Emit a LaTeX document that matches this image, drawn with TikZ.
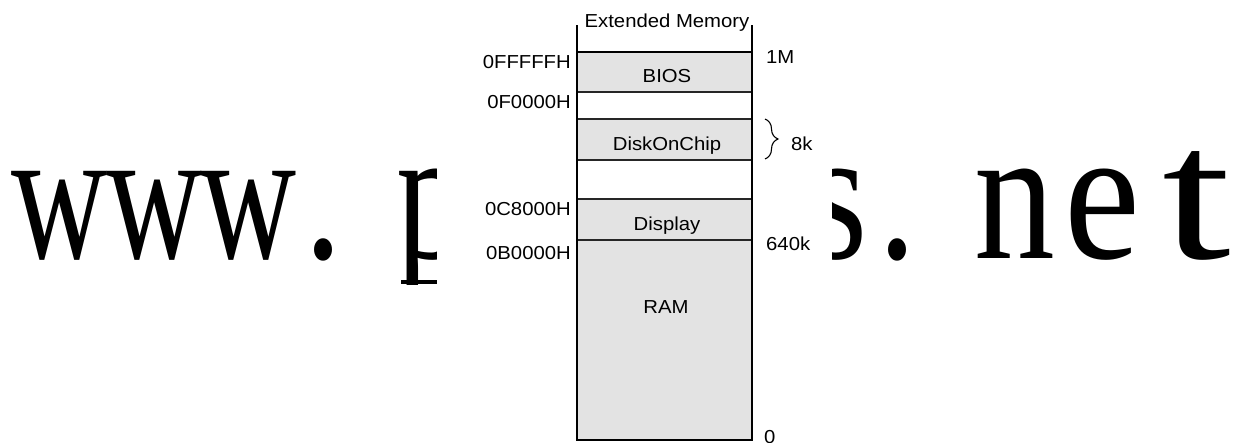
\documentclass[tikz,border=0pt]{standalone}
\usepackage{graphicx}
\usepackage{fontspec}
\setmainfont{Liberation Sans}
\newfontfamily\wmfont{Liberation Serif}
\usetikzlibrary{decorations.pathreplacing}
\definecolor{memgray}{HTML}{E3E3E3}
\definecolor{wmblack}{HTML}{000000}
\newcommand\wx[1]{\scalebox{1.08}[1]{#1}}
\newcommand\wq[2]{\scalebox{#1}[1]{#2}}
\begin{document}
\begin{tikzpicture}[x=1pt,y=-1pt,
  lbl/.style={font=\fontsize{18.8}{22}\selectfont, inner sep=0pt, text=black},
  wm/.style={font=\wmfont\fontsize{190}{200}\selectfont, inner sep=0pt, anchor=base, text=wmblack},
  outer/.style={draw=black, line width=2.9pt},
  inner/.style={draw=black!85, line width=1.6pt},
  segfill/.style={fill=memgray}]
\useasboundingbox (0,0) rectangle (1248,442);
\fill[white] (0,0) rectangle (1248,442);
% watermark
\node[wm] (w1) at (59.5,258) {\wq{0.7}{w}};
\node[wm] (w2) at (154.5,258) {\wq{0.7}{w}};
\node[wm] (w3) at (249,258) {\wq{0.7}{w}};
\node[wm] (wd1) at (323,258) {\wq{0.8}{.}};
\begin{scope}
\clip (380,150) rectangle (437,284);
\node[wm] (wp) at (432,258) {\wq{0.75}{p}};
\fill[wmblack] (401,279.5) rectangle (437,284);
\end{scope}
\node[wm] (ws) at (838,258) {\wq{0.8}{s}};
\node[wm] (wd2) at (897,258) {\wq{0.8}{.}};
\node[wm] (wn) at (1015,258) {\wq{0.85}{n}};
\node[wm] (we) at (1102,258) {\wq{0.9}{e}};
\node[wm] (wt) at (1197,258) {\wq{1.3}{t}};
\fill[white] (437,0) rectangle (832,442);
% memory column
\coordinate (tl) at (577,52);
\coordinate (tr) at (752,52);
\coordinate (bl) at (577,440);
\coordinate (br) at (752,440);
\fill[segfill] (577,52) rectangle (752,92);
\fill[segfill] (577,119) rectangle (752,160);
\fill[segfill] (577,199) rectangle (752,440);
\draw[inner] (577,92) -- (752,92);
\draw[inner] (577,119) -- (752,119);
\draw[inner] (577,160) -- (752,160);
\draw[inner] (577,199) -- (752,199);
\draw[inner] (577,240) -- (752,240);
\draw[outer] (tl) -- (tr);
\draw[outer] (577,25) -- (bl) -- (br) -- (752,25);
% texts
\node[lbl, anchor=base] (ext) at (667,27) {\wx{Extended Memory}};
\node[lbl, anchor=base] (bios) at (667,82) {\wx{BIOS}};
\node[lbl, anchor=base] (doc) at (667,150) {\wx{DiskOnChip}};
\node[lbl, anchor=base] (disp) at (667,230) {\wx{Display}};
\node[lbl, anchor=base] (ram) at (666,313) {\wx{RAM}};
\node[lbl, anchor=base east] (a1) at (571,68) {\wx{0FFFFFH}};
\node[lbl, anchor=base east] (a2) at (571,108) {\wx{0F0000H}};
\node[lbl, anchor=base east] (a3) at (571,215) {\wx{0C8000H}};
\node[lbl, anchor=base east] (a4) at (571,259) {\wx{0B0000H}};
\node[lbl, anchor=base west] (s1) at (766,63) {\wx{1M}};
\node[lbl, anchor=base west] (s2) at (791,150) {\wx{8k}};
\node[lbl, anchor=base west] (s3) at (766,250) {\wx{640k}};
\node[lbl, anchor=base west] (s4) at (764,443) {\wx{0}};
\coordinate (bt) at (765,119);
\coordinate (bb) at (765,159);
\draw[decorate, decoration={brace, amplitude=13pt}, line width=1.1pt] (bt) -- (bb);
\end{tikzpicture}
\end{document}
